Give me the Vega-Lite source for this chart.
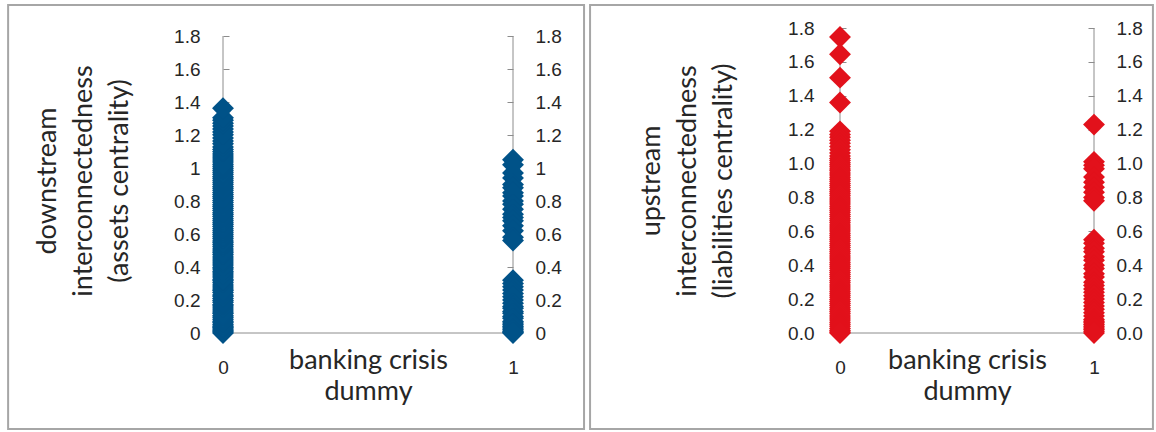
{
  "$schema": "https://vega.github.io/schema/vega-lite/v6.json",
  "padding": {"left": 7, "top": 3, "right": 0, "bottom": 0},
  "background": "white",
  "spacing": 3,
  "config": {
    "view": {"stroke": null},
    "axis": {
      "labelFont": "Liberation Sans",
      "labelFontSize": 19,
      "labelColor": "#262626",
      "titleFont": "Lato",
      "titleFontSize": 27,
      "titleFontWeight": "normal",
      "titleColor": "#262626",
      "domainColor": "#8c8c8c",
      "tickColor": "#8c8c8c",
      "grid": false
    }
  },
  "datasets": {
    "left": [
      {"crisis":0,"value":0},{"crisis":0,"value":0.008},{"crisis":0,"value":0.016},{"crisis":0,"value":0.025},{"crisis":0,"value":0.033},{"crisis":0,"value":0.041},{"crisis":0,"value":0.05},{"crisis":0,"value":0.062},{"crisis":0,"value":0.071},{"crisis":0,"value":0.083},{"crisis":0,"value":0.095},{"crisis":0,"value":0.104},{"crisis":0,"value":0.118},{"crisis":0,"value":0.127},{"crisis":0,"value":0.139},{"crisis":0,"value":0.152},{"crisis":0,"value":0.163},{"crisis":0,"value":0.171},{"crisis":0,"value":0.186},{"crisis":0,"value":0.197},{"crisis":0,"value":0.209},{"crisis":0,"value":0.222},{"crisis":0,"value":0.231},{"crisis":0,"value":0.245},{"crisis":0,"value":0.258},{"crisis":0,"value":0.266},{"crisis":0,"value":0.279},{"crisis":0,"value":0.291},{"crisis":0,"value":0.304},{"crisis":0,"value":0.317},{"crisis":0,"value":0.326},{"crisis":0,"value":0.339},{"crisis":0,"value":0.352},{"crisis":0,"value":0.364},{"crisis":0,"value":0.375},{"crisis":0,"value":0.388},{"crisis":0,"value":0.399},{"crisis":0,"value":0.412},{"crisis":0,"value":0.425},{"crisis":0,"value":0.437},{"crisis":0,"value":0.448},{"crisis":0,"value":0.461},{"crisis":0,"value":0.474},{"crisis":0,"value":0.486},{"crisis":0,"value":0.497},{"crisis":0,"value":0.509},{"crisis":0,"value":0.522},{"crisis":0,"value":0.535},{"crisis":0,"value":0.547},{"crisis":0,"value":0.558},{"crisis":0,"value":0.571},{"crisis":0,"value":0.583},{"crisis":0,"value":0.596},{"crisis":0,"value":0.608},{"crisis":0,"value":0.619},{"crisis":0,"value":0.632},{"crisis":0,"value":0.645},{"crisis":0,"value":0.657},{"crisis":0,"value":0.668},{"crisis":0,"value":0.681},{"crisis":0,"value":0.693},{"crisis":0,"value":0.706},{"crisis":0,"value":0.718},{"crisis":0,"value":0.729},{"crisis":0,"value":0.742},{"crisis":0,"value":0.755},{"crisis":0,"value":0.767},{"crisis":0,"value":0.778},{"crisis":0,"value":0.791},{"crisis":0,"value":0.803},{"crisis":0,"value":0.816},{"crisis":0,"value":0.828},{"crisis":0,"value":0.839},{"crisis":0,"value":0.852},{"crisis":0,"value":0.865},{"crisis":0,"value":0.877},{"crisis":0,"value":0.888},{"crisis":0,"value":0.901},{"crisis":0,"value":0.913},{"crisis":0,"value":0.926},{"crisis":0,"value":0.938},{"crisis":0,"value":0.949},{"crisis":0,"value":0.962},{"crisis":0,"value":0.974},{"crisis":0,"value":0.987},{"crisis":0,"value":0.998},{"crisis":0,"value":1.011},{"crisis":0,"value":1.023},{"crisis":0,"value":1.036},{"crisis":0,"value":1.048},{"crisis":0,"value":1.061},{"crisis":0,"value":1.072},{"crisis":0,"value":1.085},{"crisis":0,"value":1.098},{"crisis":0,"value":1.112},{"crisis":0,"value":1.128},{"crisis":0,"value":1.147},{"crisis":0,"value":1.163},{"crisis":0,"value":1.182},{"crisis":0,"value":1.201},{"crisis":0,"value":1.218},{"crisis":0,"value":1.236},{"crisis":0,"value":1.254},{"crisis":0,"value":1.271},{"crisis":0,"value":1.289},{"crisis":0,"value":1.305},{"crisis":0,"value":1.362},
      {"crisis":1,"value":1.05},{"crisis":1,"value":1.02},{"crisis":1,"value":0.97},{"crisis":1,"value":0.94},{"crisis":1,"value":0.9},{"crisis":1,"value":0.88},{"crisis":1,"value":0.85},{"crisis":1,"value":0.83},{"crisis":1,"value":0.8},{"crisis":1,"value":0.78},{"crisis":1,"value":0.75},{"crisis":1,"value":0.72},{"crisis":1,"value":0.7},{"crisis":1,"value":0.68},{"crisis":1,"value":0.65},{"crisis":1,"value":0.62},{"crisis":1,"value":0.58},{"crisis":1,"value":0.56},
      {"crisis":1,"value":0.32},{"crisis":1,"value":0.3},{"crisis":1,"value":0.28},{"crisis":1,"value":0.26},{"crisis":1,"value":0.24},{"crisis":1,"value":0.22},{"crisis":1,"value":0.2},{"crisis":1,"value":0.18},{"crisis":1,"value":0.16},{"crisis":1,"value":0.15},{"crisis":1,"value":0.13},{"crisis":1,"value":0.12},{"crisis":1,"value":0.1},{"crisis":1,"value":0.09},{"crisis":1,"value":0.07},{"crisis":1,"value":0.06},{"crisis":1,"value":0.05},{"crisis":1,"value":0.04},{"crisis":1,"value":0.03},{"crisis":1,"value":0.02},{"crisis":1,"value":0.01},{"crisis":1,"value":0.005},{"crisis":1,"value":0}
    ],
    "right": [
      {"crisis":0,"value":1.747},{"crisis":0,"value":1.645},{"crisis":0,"value":1.507},{"crisis":0,"value":1.36},{"crisis":0,"value":1.19},{"crisis":0,"value":1.172},{"crisis":0,"value":1.155},{"crisis":0,"value":1.137},{"crisis":0,"value":1.12},{"crisis":0,"value":1.1},{"crisis":0,"value":1.082},{"crisis":0,"value":1.063},{"crisis":0,"value":1.045},{"crisis":0,"value":1.03},
      {"crisis":0,"value":1.018},{"crisis":0,"value":1.005},{"crisis":0,"value":0.993},{"crisis":0,"value":0.981},{"crisis":0,"value":0.968},{"crisis":0,"value":0.957},{"crisis":0,"value":0.944},{"crisis":0,"value":0.932},{"crisis":0,"value":0.919},{"crisis":0,"value":0.908},{"crisis":0,"value":0.895},{"crisis":0,"value":0.883},{"crisis":0,"value":0.871},{"crisis":0,"value":0.858},{"crisis":0,"value":0.846},{"crisis":0,"value":0.834},{"crisis":0,"value":0.822},{"crisis":0,"value":0.81},{"crisis":0,"value":0.797},{"crisis":0,"value":0.785},{"crisis":0,"value":0.773},{"crisis":0,"value":0.761},{"crisis":0,"value":0.748},{"crisis":0,"value":0.736},{"crisis":0,"value":0.724},{"crisis":0,"value":0.712},{"crisis":0,"value":0.699},{"crisis":0,"value":0.687},{"crisis":0,"value":0.675},{"crisis":0,"value":0.663},{"crisis":0,"value":0.651},{"crisis":0,"value":0.638},{"crisis":0,"value":0.626},{"crisis":0,"value":0.614},{"crisis":0,"value":0.602},{"crisis":0,"value":0.589},{"crisis":0,"value":0.577},{"crisis":0,"value":0.565},{"crisis":0,"value":0.553},{"crisis":0,"value":0.541},{"crisis":0,"value":0.528},{"crisis":0,"value":0.516},{"crisis":0,"value":0.504},{"crisis":0,"value":0.492},{"crisis":0,"value":0.479},{"crisis":0,"value":0.467},{"crisis":0,"value":0.455},{"crisis":0,"value":0.443},{"crisis":0,"value":0.431},{"crisis":0,"value":0.418},{"crisis":0,"value":0.406},{"crisis":0,"value":0.394},{"crisis":0,"value":0.382},{"crisis":0,"value":0.369},{"crisis":0,"value":0.357},{"crisis":0,"value":0.345},{"crisis":0,"value":0.333},{"crisis":0,"value":0.321},{"crisis":0,"value":0.308},{"crisis":0,"value":0.296},{"crisis":0,"value":0.284},{"crisis":0,"value":0.272},{"crisis":0,"value":0.259},{"crisis":0,"value":0.247},{"crisis":0,"value":0.235},{"crisis":0,"value":0.223},{"crisis":0,"value":0.211},{"crisis":0,"value":0.198},{"crisis":0,"value":0.186},{"crisis":0,"value":0.174},{"crisis":0,"value":0.162},{"crisis":0,"value":0.149},{"crisis":0,"value":0.137},{"crisis":0,"value":0.125},{"crisis":0,"value":0.113},{"crisis":0,"value":0.101},{"crisis":0,"value":0.088},{"crisis":0,"value":0.076},{"crisis":0,"value":0.064},{"crisis":0,"value":0.052},{"crisis":0,"value":0.04},{"crisis":0,"value":0.027},{"crisis":0,"value":0.015},{"crisis":0,"value":0.006},{"crisis":0,"value":0},
      {"crisis":1,"value":1.23},{"crisis":1,"value":1.01},{"crisis":1,"value":0.99},{"crisis":1,"value":0.97},{"crisis":1,"value":0.92},{"crisis":1,"value":0.89},{"crisis":1,"value":0.86},{"crisis":1,"value":0.83},{"crisis":1,"value":0.8},{"crisis":1,"value":0.78},
      {"crisis":1,"value":0.55},{"crisis":1,"value":0.53},{"crisis":1,"value":0.5},{"crisis":1,"value":0.48},{"crisis":1,"value":0.45},{"crisis":1,"value":0.43},{"crisis":1,"value":0.4},{"crisis":1,"value":0.38},{"crisis":1,"value":0.35},{"crisis":1,"value":0.33},{"crisis":1,"value":0.3},{"crisis":1,"value":0.28},{"crisis":1,"value":0.26},{"crisis":1,"value":0.24},{"crisis":1,"value":0.22},{"crisis":1,"value":0.2},{"crisis":1,"value":0.18},{"crisis":1,"value":0.16},{"crisis":1,"value":0.14},{"crisis":1,"value":0.12},{"crisis":1,"value":0.1},{"crisis":1,"value":0.08},{"crisis":1,"value":0.07},{"crisis":1,"value":0.06},{"crisis":1,"value":0.05},{"crisis":1,"value":0.04},{"crisis":1,"value":0.03},{"crisis":1,"value":0.02},{"crisis":1,"value":0.01},{"crisis":1,"value":0}
    ]
  },
  "hconcat": [
    {
      "width": 290,
      "height": 305,
      "resolve": {"axis": {"x": "independent", "y": "independent"}},
      "layer": [
        {
          "data": {"values": [{}]},
          "mark": {"type": "rect", "fill": "transparent", "stroke": "#a6a6a6", "strokeWidth": 2},
          "encoding": {
            "x": {"datum": -0.741, "type": "quantitative", "scale": {"domain": [0, 1], "nice": false}, "axis": null},
            "x2": {"datum": 1.245},
            "y": {"datum": 1.988, "type": "quantitative", "scale": {"domain": [0, 1.8485], "nice": false}, "axis": null},
            "y2": {"datum": -0.582}
          }
        },
        {
          "data": {"values": [{}]},
          "mark": {"type": "rule", "color": "#8c8c8c", "strokeWidth": 1},
          "encoding": {
            "x": {"datum": 0, "type": "quantitative", "scale": {"domain": [0, 1], "nice": false}, "axis": null},
            "x2": {"datum": 1},
            "y": {"datum": 0, "type": "quantitative", "scale": {"domain": [0, 1.8485], "nice": false}, "axis": null}
          }
        },
        {
          "data": {"values": [{}]},
          "mark": {"type": "rule", "color": "#8c8c8c", "strokeWidth": 1},
          "encoding": {
            "x": {"datum": 0, "type": "quantitative", "scale": {"domain": [0, 1], "nice": false}, "axis": null},
            "y": {"datum": 0, "type": "quantitative", "scale": {"domain": [0, 1.8485], "nice": false}, "axis": null},
            "y2": {"datum": 1.8}
          }
        },
        {
          "data": {"values": [{}]},
          "mark": {"type": "rule", "color": "#8c8c8c", "strokeWidth": 1},
          "encoding": {
            "x": {"datum": 1, "type": "quantitative", "scale": {"domain": [0, 1], "nice": false}, "axis": null},
            "y": {"datum": 0, "type": "quantitative", "scale": {"domain": [0, 1.8485], "nice": false},
              "axis": {"orient": "right", "domain": false, "values": [0, 0.2, 0.4, 0.6, 0.8, 1, 1.2, 1.4, 1.6, 1.8], "format": ".1~f", "tickSize": -6, "labelPadding": 28, "title": null}},
            "y2": {"datum": 1.8}
          }
        },
        {
          "data": {"name": "left"},
          "mark": {"type": "point", "shape": "diamond", "filled": true, "size": 480, "opacity": 1, "color": "#005288"},
          "encoding": {
            "x": {"field": "crisis", "type": "quantitative", "scale": {"domain": [0, 1], "nice": false},
              "axis": {"orient": "bottom", "domain": false, "values": [0, 1], "format": "d", "ticks": false, "labelFlush": false, "labelPadding": 25, "title": ["banking crisis", "dummy"], "titleLineHeight": 31, "titlePadding": -30}},
            "y": {"field": "value", "type": "quantitative", "scale": {"domain": [0, 1.8485], "nice": false},
              "axis": {"orient": "left", "domain": false, "values": [0, 0.2, 0.4, 0.6, 0.8, 1, 1.2, 1.4, 1.6, 1.8], "format": ".1~f", "tickSize": -6, "labelPadding": 29, "title": ["downstream", "interconnectedness", "(assets centrality)"], "titleLineHeight": 36, "titlePadding": 40}}
          }
        }
      ]
    },
    {
      "width": 254,
      "height": 305,
      "resolve": {"axis": {"x": "independent", "y": "independent"}},
      "layer": [
        {
          "data": {"values": [{}]},
          "mark": {"type": "rect", "fill": "transparent", "stroke": "#a6a6a6", "strokeWidth": 2},
          "encoding": {
            "x": {"datum": -0.984, "type": "quantitative", "scale": {"domain": [0, 1], "nice": false}, "axis": null},
            "x2": {"datum": 1.232},
            "y": {"datum": 1.9357, "type": "quantitative", "scale": {"domain": [0, 1.8], "nice": false}, "axis": null},
            "y2": {"datum": -0.5666}
          }
        },
        {
          "data": {"values": [{}]},
          "mark": {"type": "rule", "color": "#8c8c8c", "strokeWidth": 1},
          "encoding": {
            "x": {"datum": 0, "type": "quantitative", "scale": {"domain": [0, 1], "nice": false}, "axis": null},
            "x2": {"datum": 1},
            "y": {"datum": 0, "type": "quantitative", "scale": {"domain": [0, 1.8], "nice": false}, "axis": null}
          }
        },
        {
          "data": {"values": [{}]},
          "mark": {"type": "rule", "color": "#8c8c8c", "strokeWidth": 1},
          "encoding": {
            "x": {"datum": 0, "type": "quantitative", "scale": {"domain": [0, 1], "nice": false}, "axis": null},
            "y": {"datum": 0, "type": "quantitative", "scale": {"domain": [0, 1.8], "nice": false}, "axis": null},
            "y2": {"datum": 1.8}
          }
        },
        {
          "data": {"values": [{}]},
          "mark": {"type": "rule", "color": "#8c8c8c", "strokeWidth": 1},
          "encoding": {
            "x": {"datum": 1, "type": "quantitative", "scale": {"domain": [0, 1], "nice": false}, "axis": null},
            "y": {"datum": 0, "type": "quantitative", "scale": {"domain": [0, 1.8], "nice": false},
              "axis": {"orient": "right", "domain": false, "values": [0, 0.2, 0.4, 0.6, 0.8, 1, 1.2, 1.4, 1.6, 1.8], "format": ".1f", "tickSize": -6, "labelPadding": 28, "title": null}},
            "y2": {"datum": 1.8}
          }
        },
        {
          "data": {"name": "right"},
          "mark": {"type": "point", "shape": "diamond", "filled": true, "size": 480, "opacity": 1, "color": "#E2111B"},
          "encoding": {
            "x": {"field": "crisis", "type": "quantitative", "scale": {"domain": [0, 1], "nice": false},
              "axis": {"orient": "bottom", "domain": false, "values": [0, 1], "format": "d", "ticks": false, "labelFlush": false, "labelPadding": 25, "title": ["banking crisis", "dummy"], "titleLineHeight": 31, "titlePadding": -30}},
            "y": {"field": "value", "type": "quantitative", "scale": {"domain": [0, 1.8], "nice": false},
              "axis": {"orient": "left", "domain": false, "values": [0, 0.2, 0.4, 0.6, 0.8, 1, 1.2, 1.4, 1.6, 1.8], "format": ".1f", "tickSize": -6, "labelPadding": 32, "title": ["upstream", "interconnectedness", "(liabilities centrality)"], "titleLineHeight": 36, "titlePadding": 50}}
          }
        }
      ]
    }
  ]
}
